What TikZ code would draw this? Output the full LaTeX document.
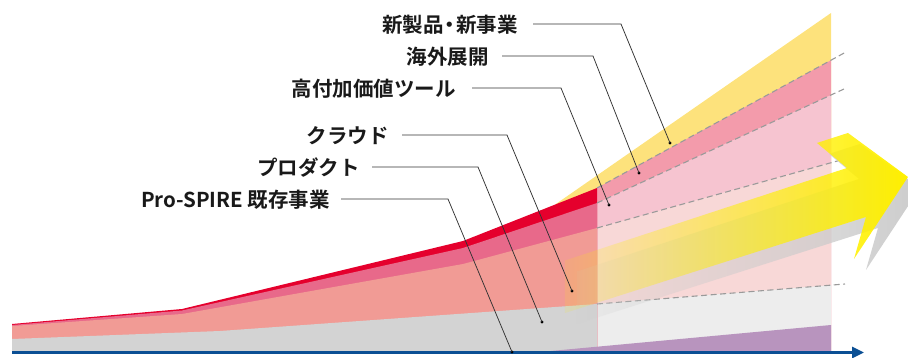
\documentclass[tikz,border=0pt]{standalone}
\usepackage{fontspec}
\newfontfamily\jp{Noto Sans CJK JP}[BoldFont={Noto Sans CJK JP Bold}]
\usetikzlibrary{fadings,arrows.meta}
\definecolor{cRed}{HTML}{E5002D}
\definecolor{cPink}{HTML}{E8698A}
\definecolor{cSalmon}{HTML}{F19B95}
\definecolor{cGray}{HTML}{D3D3D3}
\definecolor{cYellow}{HTML}{FDE27C}
\definecolor{cPinkR}{HTML}{F39BAB}
\definecolor{cLPinkR}{HTML}{F6C4D0}
\definecolor{cSalmonR}{HTML}{F8D8D7}
\definecolor{cGrayR}{HTML}{EDEDED}
\definecolor{cPurple}{HTML}{B894BE}
\definecolor{cBlue}{HTML}{0B4F94}
\definecolor{cArrow}{HTML}{FFF000}
\definecolor{cShadow}{HTML}{CCCCCC}
\definecolor{cDash}{HTML}{9A9A9A}
\tikzfading[name=arrowfade, left color=transparent!100, middle color=transparent!25, right color=transparent!0]
\newcommand\myArrowShape{(520,177) -- (520,177) (565,260.5) -- (847,168) -- (817,143) -- (848,133) -- (908,177) -- (854,259) -- (866,217) -- (565,313) -- cycle}
\tikzset{
 lbl/.style={anchor=east, inner sep=0pt, font=\jp\bfseries\fontsize{20.5}{23}\selectfont, text=black!90},
 leader/.style={draw=black!80, line width=0.75pt},
 dotmark/.style={circle, fill=black, inner sep=0pt, minimum size=3.4pt},
 dashln/.style={draw=cDash, line width=1.1pt, dash pattern=on 6pt off 3.5pt},
 axisln/.style={draw=cBlue, line width=2.8pt, -{Triangle[length=12pt,width=11pt]}},
}
\begin{document}
\begin{tikzpicture}[x=1pt,y=-1pt]
\useasboundingbox (0,0) rectangle (908,358);
\clip (0,0) rectangle (908,358);
% yellow wedge
\fill[cYellow] (555,204.6) -- (831,13) -- (831,200) -- (597,200) -- cycle;
% right pale bands
\fill[cPinkR] (597,188) -- (831,60.2) -- (831,352) -- (597,352) -- cycle;
\fill[cLPinkR] (597,203) -- (831,95) -- (831,352) -- (597,352) -- cycle;
\fill[cSalmonR] (597,228) -- (831,162.5) -- (831,352) -- (597,352) -- cycle;
\fill[cGrayR] (597,304) -- (831,285.1) -- (831,352) -- (597,352) -- cycle;
% left bands
\fill[cRed] (12,324) -- (182,309) -- (463,241) -- (597,188) -- (597,352) -- (12,352) -- cycle;
\fill[cPink] (12,325) -- (182,310.5) -- (463,248) -- (597,203) -- (597,352) -- (12,352) -- cycle;
\fill[cSalmon] (12,326) -- (182,314) -- (463,264) -- (597,228) -- (597,352) -- (12,352) -- cycle;
\fill[cGray] (12,339) -- (220,331) -- (597,304) -- (597,352) -- (12,352) -- cycle;
% purple wedge
\fill[cPurple] (540,352) -- (831,325) -- (831,352) -- cycle;
% dashed lines
\draw[dashln] (597,188) -- (846,52);
\draw[dashln] (597,203) -- (844,89);
\draw[dashln] (597,228) -- (838,160.8);
\draw[dashln] (597,304) -- (845,284);
% big arrow with shadow
\begin{scope}[shift={(12,11)}]
\fill[cShadow, path fading=arrowfade] \myArrowShape;
\end{scope}
\fill[cArrow, path fading=arrowfade] \myArrowShape;
% axis
\coordinate (ax0) at (12,352.5);
\coordinate (ax1) at (864,352.5);
\draw[axisln] (ax0) -- (ax1);
% labels and leaders
\node[lbl] (t1) at (518,24.5) {新製品\kern-4pt・\kern-4pt新事業};
\node[lbl] (t2) at (489,56.5) {海外展開};
\node[lbl] (t3) at (456,88.5) {高付加価値ツール};
\node[lbl] (t4) at (389,135.5) {クラウド};
\node[lbl] (t5) at (360,167.5) {プロダクト};
\node[lbl] (t6) at (330,199.5) {Pro-SPIRE 既存事業};
\coordinate (k1) at (621,24);
\coordinate (k2) at (593,56);
\coordinate (k3) at (561,88);
\coordinate (k4) at (507,135);
\coordinate (k5) at (478,167);
\coordinate (k6) at (448,199);
\node[dotmark] (d1) at (670,143) {};
\node[dotmark] (d2) at (639,173) {};
\node[dotmark] (d3) at (609,205) {};
\node[dotmark] (d4) at (572,291) {};
\node[dotmark] (d5) at (542,322) {};
\node[dotmark] (d6) at (512,352) {};
\draw[leader] ([xshift=15pt,yshift=0.5pt]t1.east) -- (k1) -- (d1.center);
\draw[leader] ([xshift=13pt,yshift=0.5pt]t2.east) -- (k2) -- (d2.center);
\draw[leader] ([xshift=16pt,yshift=0.5pt]t3.east) -- (k3) -- (d3.center);
\draw[leader] ([xshift=13pt,yshift=0.5pt]t4.east) -- (k4) -- (d4.center);
\draw[leader] ([xshift=12pt,yshift=0.5pt]t5.east) -- (k5) -- (d5.center);
\draw[leader] ([xshift=11pt,yshift=0.5pt]t6.east) -- (k6) -- (d6.center);
\end{tikzpicture}
\end{document}
